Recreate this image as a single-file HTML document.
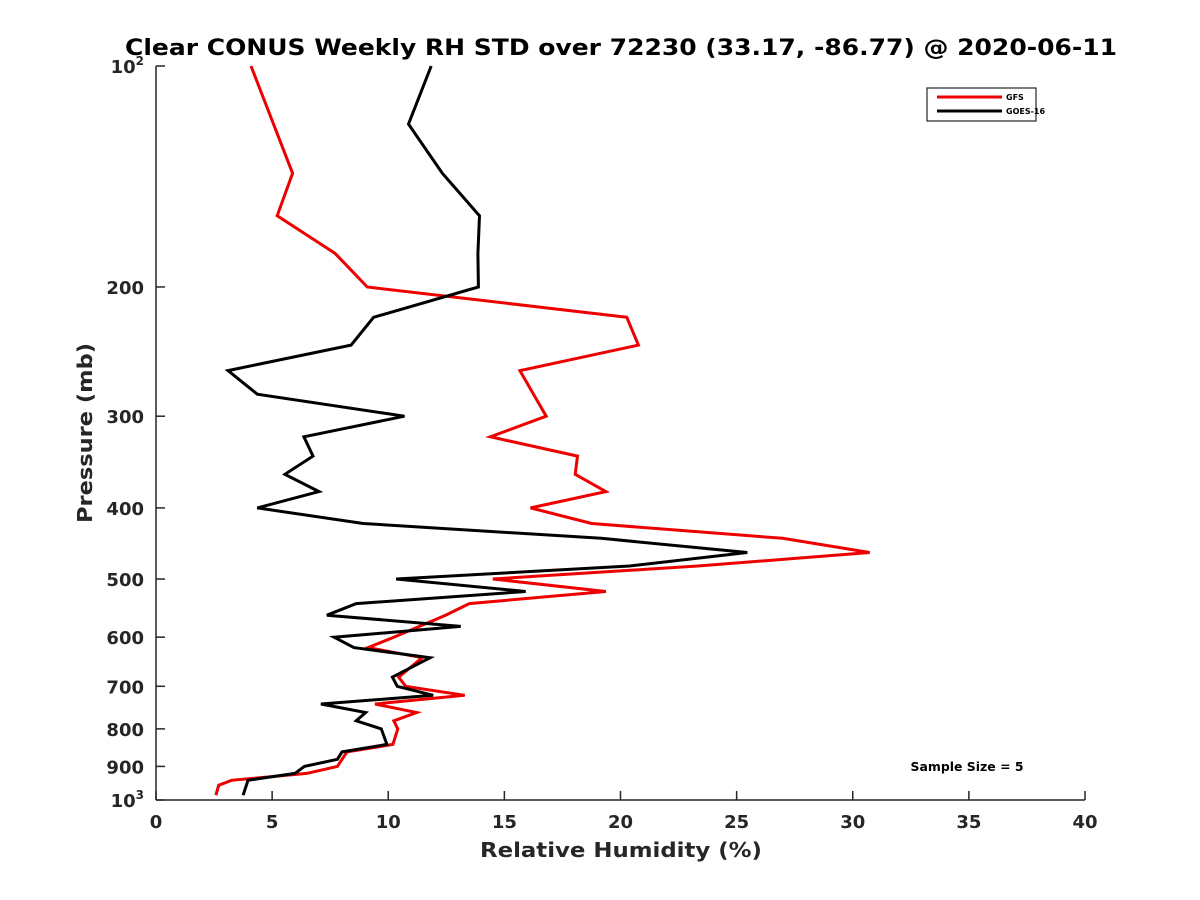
<!DOCTYPE html>
<html><head><meta charset="utf-8"><style>
body{margin:0;background:#fff;}
svg{display:block;font-family:"DejaVu Sans","Liberation Sans",sans-serif;}
</style></head><body>
<svg id="chart" width="1200" height="900" viewBox="0 0 1200 900">
<rect width="1200" height="900" fill="#fff"/>
<text x="621" y="55" text-anchor="middle" font-size="22" font-weight="bold" fill="#000" textLength="992" lengthAdjust="spacingAndGlyphs">Clear CONUS Weekly RH STD over 72230 (33.17, -86.77) @ 2020-06-11</text>
<g id="axes"></g>
<g id="series"></g>
<text x="621" y="857" text-anchor="middle" font-size="20" font-weight="bold" fill="#262626" textLength="282" lengthAdjust="spacingAndGlyphs">Relative Humidity (%)</text>
<text transform="translate(92,433) rotate(-90)" text-anchor="middle" font-size="20" font-weight="bold" fill="#262626" textLength="180" lengthAdjust="spacingAndGlyphs">Pressure (mb)</text>
<g>
<rect x="927" y="88" width="109" height="33" fill="#fff" stroke="#262626" stroke-width="1.2"/>
<line x1="937" y1="97" x2="1002" y2="97" stroke="#e00" stroke-width="3"/>
<text x="1006" y="100" font-size="8" font-weight="bold" fill="#000">GFS</text>
<line x1="937" y1="111" x2="1002" y2="111" stroke="#000" stroke-width="3"/>
<text x="1006" y="114" font-size="8" font-weight="bold" fill="#000">GOES-16</text>
</g>
<text x="967" y="771" text-anchor="middle" font-size="12" font-weight="bold" fill="#000" textLength="113" lengthAdjust="spacingAndGlyphs">Sample Size = 5</text>
</svg>
<script>
const xTicks = [0,5,10,15,20,25,30,35,40];
const yTicks = [100,200,300,400,500,600,700,800,900,1000];
const yTickLabels = ["10^2","200","300","400","500","600","700","800","900","10^3"];
const gfsP = [100,140,160,180,200,220,240,260,300,320,340,360,380,400,420,440,460,480,500,520,540,560,600,620,640,680,700,720,740,760,780,800,840,860,900,920,940,955,985];
const gfsRH = [4.09,5.88,5.22,7.71,9.10,20.27,20.77,15.67,16.8,14.4,18.15,18.05,19.37,16.13,18.76,26.98,30.73,23.33,14.5,19.37,13.49,12.47,10.24,9.13,11.46,10.45,10.75,13.29,9.43,11.22,10.24,10.41,10.2,8.22,7.81,6.49,3.25,2.7,2.58];
const goesP = [100,120,140,160,180,200,220,240,260,280,300,320,340,360,380,400,420,440,460,480,500,520,540,560,580,600,620,640,680,700,720,740,760,780,800,840,860,880,900,920,940,985];
const goesRH = [11.85,10.87,12.33,13.93,13.86,13.88,9.37,8.4,3.1,4.36,10.7,6.37,6.76,5.55,7.02,4.36,8.92,19.17,25.46,20.39,10.34,15.92,8.62,7.36,13.12,7.67,8.52,11.8,10.18,10.39,11.93,7.1,9.03,8.62,9.70,9.94,8.01,7.81,6.39,5.98,3.96,3.75];

const L=156,R=1085,T=66,B=800;
function xs(v){return L+(v-0)/(40-0)*(R-L);}
function ys(p){return T+Math.log10(p/100)*(B-T);}
const NS='http://www.w3.org/2000/svg';
function mk(tag,attrs,parent){const e=document.createElementNS(NS,tag);for(const k in attrs)e.setAttribute(k,attrs[k]);parent.appendChild(e);return e;}
const ax=document.getElementById('axes');
let l=mk('line',{x1:L,y1:T,x2:L,y2:B,stroke:'#262626','stroke-width':1.5},ax);


l=mk('line',{x1:L,y1:B,x2:R,y2:B,stroke:'#262626','stroke-width':1.5},ax);


xTicks.forEach(v=>{
  const x=xs(v);
  const t=mk('line',{x1:x,y1:B,x2:x,y2:B-9,stroke:'#262626','stroke-width':1.5},ax);
  
  
  const tx=mk('text',{x:x,y:B+28,'text-anchor':'middle','font-size':18,'font-weight':'bold',fill:'#262626'},ax);
  tx.textContent=v;
  
  
});
yTicks.forEach((p,i)=>{
  const y=ys(p);
  const t=mk('line',{x1:L,y1:y,x2:L+9,y2:y,stroke:'#262626','stroke-width':1.5},ax);
  
  
  const lab=yTickLabels[i];
  const tx=mk('text',{x:L-12,y:y+7,'text-anchor':'end','font-size':18,'font-weight':'bold',fill:'#262626'},ax);
  if(lab.indexOf('^')>=0){
    const parts=lab.split('^');
    tx.textContent=parts[0];
    const s=mk('tspan',{'font-size':12,dy:-8},tx);
    s.textContent=parts[1];
  } else tx.textContent=lab;
  
  
});
const sg=document.getElementById('series');
function drawLine(P,RH,color,name){
  const pts=P.map((p,i)=>xs(RH[i]).toFixed(1)+','+ys(p).toFixed(1)).join(' ');
  const pl=mk('polyline',{points:pts,fill:'none',stroke:color,'stroke-width':3,'stroke-linejoin':'miter'},sg);
  
  
}
drawLine(gfsP,gfsRH,'#e00','gfs-line');
drawLine(goesP,goesRH,'#000','goes16-line');
</script>
</body></html>
